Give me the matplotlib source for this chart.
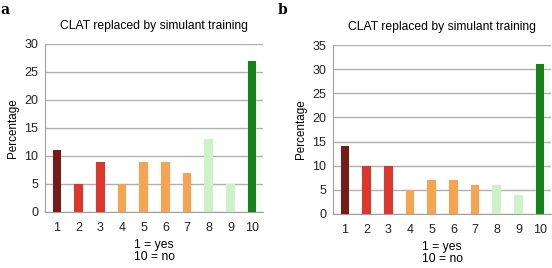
import matplotlib.pyplot as plt

plt.rcParams['font.family'] = ['Liberation Sans', 'DejaVu Sans']

categories = [str(i) for i in range(1, 11)]
values_a = [11, 5, 9, 5, 9, 9, 7, 13, 5, 27]
values_b = [14, 10, 10, 5, 7, 7, 6, 6, 4, 31]
bar_colors = ['#7a1a14', '#e0352a', '#e0352a', '#f9a34f', '#f9a34f',
              '#f9a34f', '#f9a34f', '#ccf3c8', '#ccf3c8', '#148514']
title = 'CLAT replaced by simulant training'

fig = plt.figure(figsize=(5.52, 2.68), dpi=100)

def panel(rect, values, ymax, letter, letter_x):
    ax = fig.add_axes(rect)
    x = list(range(1, len(values) + 1))
    ax.bar(x, values, width=0.4, color=bar_colors, zorder=3)
    ax.set_xlim(0.45, 10.5)
    ax.set_ylim(0, ymax)
    ax.set_yticks(range(0, ymax + 1, 5))
    ax.set_xticks(x)
    ax.set_xticklabels(categories)
    ax.yaxis.grid(True, color='#b0b0b0', linewidth=1, zorder=0)
    for s in ['top', 'right']:
        ax.spines[s].set_visible(False)
    ax.spines['left'].set_color('#a0a0a0')
    ax.spines['bottom'].set_color('#a0a0a0')
    ax.tick_params(axis='x', length=0, labelsize=9, colors='#222222', pad=7)
    ax.tick_params(axis='y', length=0, labelsize=9, colors='#222222', pad=5)
    ax.set_ylabel('Percentage', fontsize=8.4, labelpad=4)
    ax.set_title(title, fontsize=8.7, pad=11)
    ax.set_xlabel('1 = yes\n10 = no', fontsize=8.7, labelpad=4, linespacing=0.95)
    fig.text(letter_x, 0.99, letter, fontsize=10, fontweight='bold',
             family='DejaVu Serif', va='top')
    return ax

W, H = 552, 268
panel([45 / W, 1 - 212 / H, 218 / W, 168 / H], values_a, 30, 'a', 0.0)
panel([333 / W, 1 - 214 / H, 218 / W, 169 / H], values_b, 35, 'b', 278 / W)

fig.savefig('out.png', dpi=100)
